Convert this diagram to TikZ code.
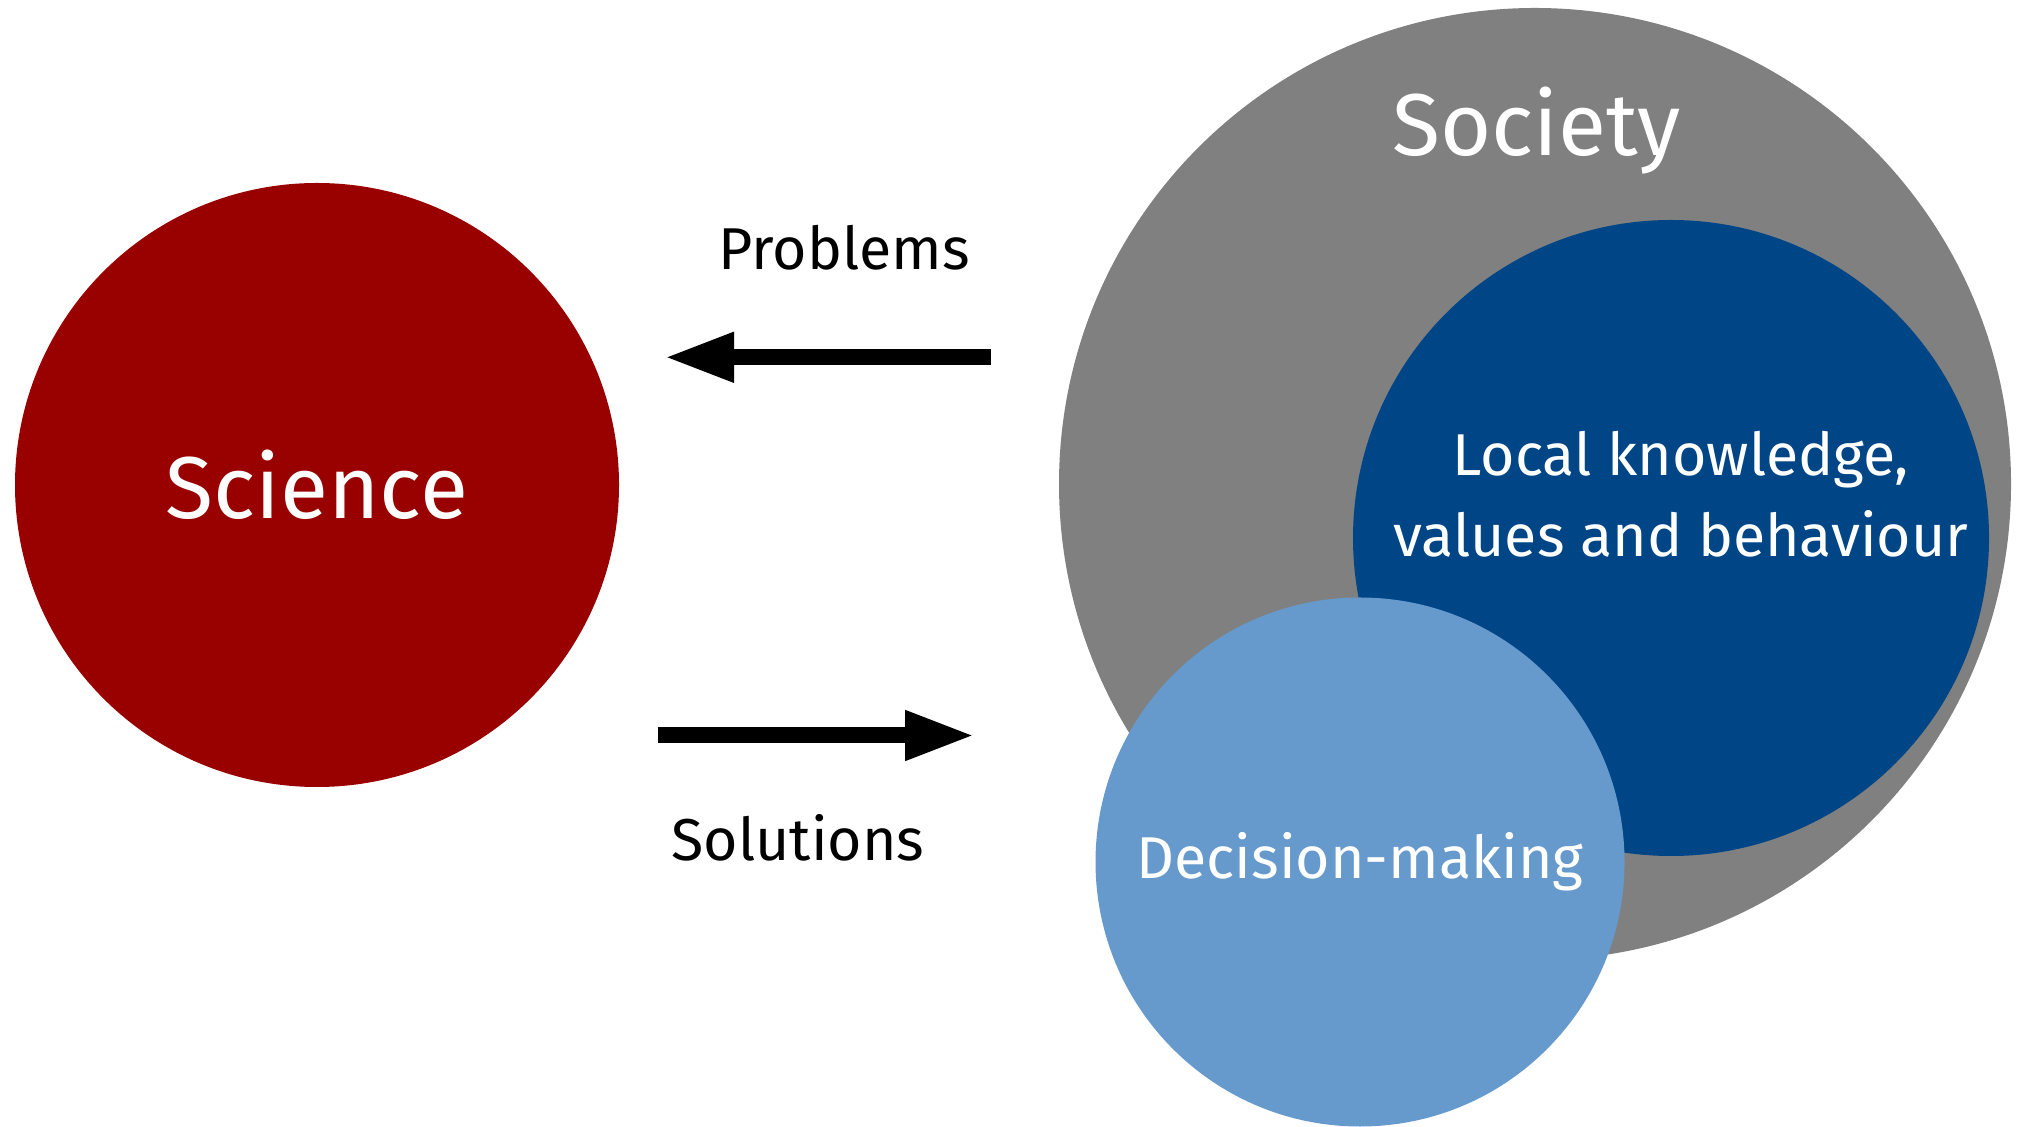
\documentclass[tikz,border=0pt]{standalone}
\usepackage{fontspec}
\setmainfont{Fira Sans}
\usetikzlibrary{arrows.meta, positioning}

\definecolor{sciencered}{HTML}{990000}
\definecolor{societygray}{HTML}{808080}
\definecolor{localblue}{HTML}{004586}
\definecolor{decisionblue}{HTML}{6699CC}

\tikzset{
  blob/.style={circle, inner sep=0pt, text=white},
  flow/.style={line width=0.16cm, -{Triangle[length=0.7cm, width=0.46cm]}},
  bigtext/.style={font=\fontsize{25}{30}\selectfont},
  smalltext/.style={font=\fontsize{16.8}{23}\selectfont}
}

\begin{document}
\begin{tikzpicture}
  \useasboundingbox (0,0) rectangle (20.19,11.26);

  % Science on the left
  \node[blob, fill=sciencered, minimum size=6.04cm, bigtext] (science) at (3.17,6.41) {Science};

  % Society and the two circles inside it
  \node[blob, fill=societygray, minimum size=9.52cm] (society) at (15.35,6.42) {};
  \node[blob, fill=localblue, minimum size=6.36cm] (local) at (16.71,5.88) {};
  \node[blob, fill=decisionblue, minimum size=5.29cm, smalltext] (decision) at (13.60,2.64) {Decision-making};

  \node[bigtext, text=white, anchor=base] (society-label) at (15.365,9.70) {Society};
  % base of a two-line node is the last line
  \node[smalltext, text=white, align=center, anchor=base] (local-label) at (16.81,5.693)
    {Local knowledge,\\values and behaviour};

  % Arrows between the two sides
  \coordinate (problems-tail) at (9.91,7.687);
  \coordinate (problems-tip) at (6.64,7.687);
  \draw[flow] (problems-tail) -- (problems-tip);
  \node[smalltext, anchor=base] (problems) at (8.44,8.56) {Problems};

  \coordinate (solutions-tail) at (6.577,3.905);
  \coordinate (solutions-tip) at (9.75,3.905);
  \draw[flow] (solutions-tail) -- (solutions-tip);
  \node[smalltext, anchor=base] (solutions) at (7.98,2.653) {Solutions};
\end{tikzpicture}
\end{document}
